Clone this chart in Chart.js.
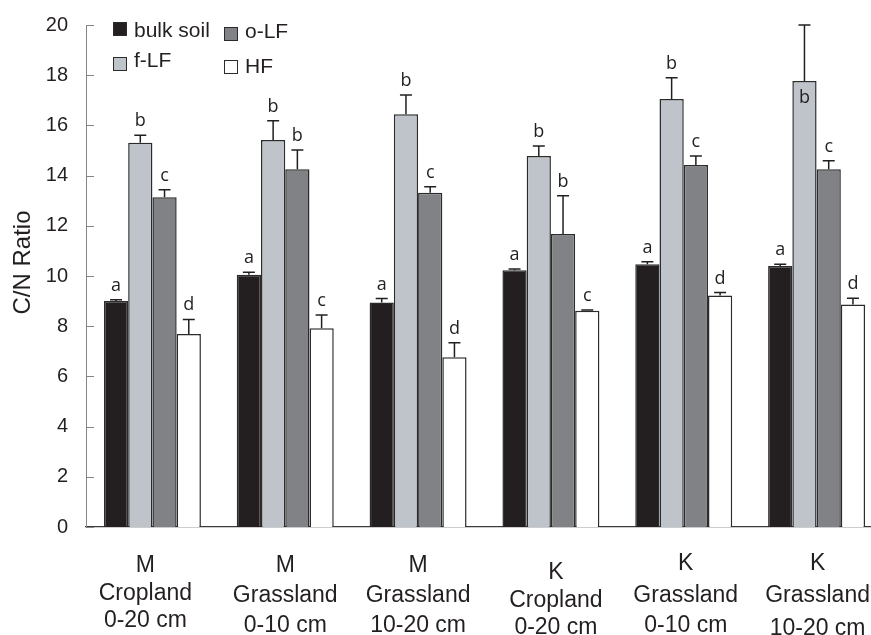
<!DOCTYPE html>
<html>
<head>
<meta charset="utf-8">
<script src="https://cdn.jsdelivr.net/npm/chart.js@4.4.1/dist/chart.umd.min.js"></script>
<style>
  html, body { margin: 0; padding: 0; overflow: hidden; background: #ffffff; }
  #wrap { width: 883px; height: 635px; }
</style>
</head>
<body>
<div id="wrap"><canvas id="c" width="883" height="635"></canvas></div>
<script>
// Site / land use / depth, one entry per group (three text lines each)
const categories = [
  ["M", "Cropland", "0-20 cm"],
  ["M", "Grassland", "0-10 cm"],
  ["M", "Grassland", "10-20 cm"],
  ["K", "Cropland", "0-20 cm"],
  ["K", "Grassland", "0-10 cm"],
  ["K", "Grassland", "10-20 cm"]
];

const seriesNames = ["bulk soil", "f-LF", "o-LF", "HF"];

// C/N ratio means
const bulkSoil = [9.00, 10.05, 8.94, 10.23, 10.47, 10.40];
const freeLF   = [15.31, 15.42, 16.44, 14.78, 17.05, 17.77];
const occlLF   = [13.14, 14.25, 13.32, 11.67, 14.42, 14.25];
const heavyF   = [7.69, 7.92, 6.76, 8.62, 9.22, 8.86];

// standard errors
const bulkSoilErr = [0.05, 0.10, 0.16, 0.05, 0.10, 0.07];
const freeLFErr   = [0.30, 0.77, 0.77, 0.40, 0.85, 2.23];
const occlLFErr   = [0.30, 0.77, 0.24, 1.53, 0.36, 0.34];
const heavyFErr   = [0.58, 0.53, 0.58, 0.03, 0.12, 0.25];

// significance letters
const bulkSoilLetters = ["a", "a", "a", "a", "a", "a"];
const freeLFLetters   = ["b", "b", "b", "b", "b", "b"];
const occlLFLetters   = ["c", "b", "c", "b", "c", "c"];
const heavyFLetters   = ["d", "c", "d", "c", "d", "d"];

const yTicks = [0, 2, 4, 6, 8, 10, 12, 14, 16, 18, 20];
const yTitle = "C/N Ratio";

// ---- styling ----
const fillColors = ["#231f20", "#bfc3ca", "#808285", "#ffffff"];
const inkColor = "#231f20";
const axisGray = "#858585";
const sansFont = "'Liberation Sans', Arial, Helvetica, sans-serif";
const letterFont = "'Open Sans', 'Noto Sans', sans-serif";

// label line baselines below the x axis and small horizontal nudges per group
const catLineOffsets = [
  [44.5, 72.5, 99.5],
  [44.5, 74.5, 104.5],
  [44.5, 74.5, 104.5],
  [51.5, 79.5, 106.5],
  [42.5, 74.5, 104.5],
  [42.5, 74.5, 107.5]
];
const catDx = [-7, 0, 0, 5, 2, 1];

// legend item placement relative to the plot's top-left corner
const legendSpots = [
  { sx: 27, sy: -3, tb: 11.5 },
  { sx: 27, sy: 32, tb: 41.7 },
  { sx: 138, sy: 2, tb: 13.3 },
  { sx: 138, sy: 35, tb: 48.3 }
];

const means = [bulkSoil, freeLF, occlLF, heavyF];
const errs = [bulkSoilErr, freeLFErr, occlLFErr, heavyFErr];
const letters = [bulkSoilLetters, freeLFLetters, occlLFLetters, heavyFLetters];

const datasets = seriesNames.map((name, i) => ({
  label: name,
  data: means[i],
  errors: errs[i],
  letters: letters[i],
  backgroundColor: fillColors[i],
  borderColor: "#2b2b2b",
  borderWidth: 1.5,
  borderSkipped: "bottom",
  categoryPercentage: 0.73,
  barPercentage: 1.0
}));

const decor = {
  id: "decor",
  afterDatasetsDraw(chart) {
    const ctx = chart.ctx;
    const y = chart.scales.y;
    ctx.save();
    chart.data.datasets.forEach((ds, di) => {
      const meta = chart.getDatasetMeta(di);
      meta.data.forEach((bar, i) => {
        const v = ds.data[i];
        const top = y.getPixelForValue(v);
        const et = y.getPixelForValue(v + ds.errors[i]);
        // error bar
        ctx.strokeStyle = inkColor;
        ctx.lineWidth = 1.5;
        ctx.beginPath();
        ctx.moveTo(bar.x, top);
        ctx.lineTo(bar.x, et);
        ctx.moveTo(bar.x - 6, et);
        ctx.lineTo(bar.x + 6, et);
        ctx.stroke();
        // significance letter: above the whisker, or inside the bar when the whisker reaches the top
        ctx.fillStyle = inkColor;
        ctx.font = "18px " + letterFont;
        ctx.textAlign = "center";
        ctx.textBaseline = "alphabetic";
        const inside = et - chart.chartArea.top < 20;
        const ly = inside ? top + 22 : et - 9;
        ctx.fillText(ds.letters[i], bar.x, ly);
      });
    });
    ctx.restore();
  },
  afterDraw(chart) {
    const ctx = chart.ctx;
    const area = chart.chartArea;
    const x = chart.scales.x;
    const y = chart.scales.y;
    ctx.save();

    // inward tick marks on the value axis
    ctx.strokeStyle = axisGray;
    ctx.lineWidth = 1;
    yTicks.forEach(t => {
      const py = Math.round(y.getPixelForValue(t)) + 0.5;
      ctx.beginPath();
      ctx.moveTo(area.left, py);
      ctx.lineTo(area.left + 8, py);
      ctx.stroke();
    });

    // value axis title
    ctx.fillStyle = inkColor;
    ctx.font = "24px " + sansFont;
    ctx.textAlign = "center";
    ctx.textBaseline = "middle";
    ctx.translate(23, 262.5);
    ctx.rotate(-Math.PI / 2);
    ctx.fillText(yTitle, 0, 0);
    ctx.setTransform(1, 0, 0, 1, 0, 0);

    // group labels
    ctx.font = "23px " + sansFont;
    ctx.textAlign = "center";
    ctx.textBaseline = "alphabetic";
    categories.forEach((lines, i) => {
      const cx = x.getPixelForValue(i) + catDx[i];
      lines.forEach((ln, k) => {
        ctx.fillText(ln, cx, area.bottom + catLineOffsets[i][k]);
      });
    });

    // legend (2 x 2)
    ctx.font = "21px " + sansFont;
    ctx.textAlign = "left";
    chart.data.datasets.forEach((ds, i) => {
      const s = legendSpots[i];
      const sx = area.left + s.sx;
      const sy = area.top + s.sy;
      ctx.fillStyle = ds.backgroundColor;
      ctx.fillRect(sx, sy, 14, 14);
      ctx.strokeStyle = "#2b2b2b";
      ctx.lineWidth = 1;
      ctx.strokeRect(sx + 0.5, sy + 0.5, 13, 13);
      ctx.fillStyle = inkColor;
      ctx.fillText(ds.label, sx + 21, area.top + s.tb);
    });
    ctx.restore();
  }
};

new Chart(document.getElementById("c"), {
  type: "bar",
  data: {
    labels: categories.map(c => c.join(" ")),
    datasets: datasets
  },
  options: {
    responsive: false,
    animation: false,
    devicePixelRatio: 1,
    layout: { padding: { top: 25, left: 0, right: 0, bottom: 0 } },
    plugins: {
      legend: { display: false },
      tooltip: { enabled: false }
    },
    scales: {
      x: {
        type: "category",
        ticks: { display: false },
        grid: { display: false },
        border: { display: true, color: "#3a3a3a", width: 1.2 },
        afterFit: s => { s.height = 108; }
      },
      y: {
        min: 0,
        max: 20,
        afterBuildTicks: s => { s.ticks = yTicks.map(v => ({ value: v })); },
        ticks: {
          color: inkColor,
          padding: 10,
          font: { family: sansFont, size: 20 }
        },
        grid: { display: false },
        border: { display: true, color: axisGray, width: 1 },
        afterFit: s => { s.width = 86; }
      }
    }
  },
  plugins: [decor]
});
</script>
</body>
</html>
